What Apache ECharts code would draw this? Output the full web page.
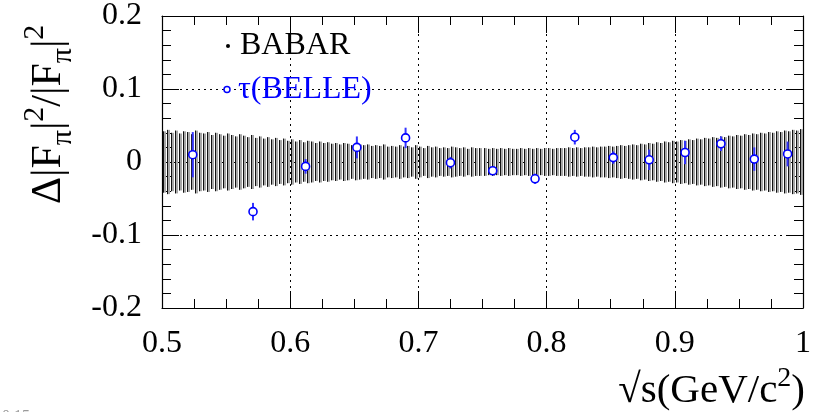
<!DOCTYPE html>
<html>
<head>
<meta charset="utf-8">
<script src="https://cdn.jsdelivr.net/npm/echarts@6/dist/echarts.min.js"></script>
<style>
  html, body { margin: 0; padding: 0; background: #fff; }
  #chart { width: 814px; height: 412px; }
</style>
</head>
<body>
<div id="chart"></div>
<script>
// Relative deviation of |F_pi|^2 : BABAR uncertainty band and tau (BELLE) points.

// x axis ticks
const xTicks = [0.5, 0.6, 0.7, 0.8, 0.9, 1.0];
// y axis ticks
const yTicks = [-0.2, -0.1, 0, 0.1, 0.2];

// BABAR: uncertainty band, 160 bins of 3.125 MeV from 0.5 to 1.0 GeV (central value 0)
const babarStart = 0.5;
const babarBinWidth = 0.003125;
const babarErr = [
  0.042,0.044,0.040,0.043,0.039,0.042,0.041,0.038,0.043,0.040,
  0.039,0.041,0.037,0.040,0.038,0.036,0.039,0.037,0.035,0.038,
  0.036,0.034,0.037,0.033,0.035,0.032,0.034,0.031,0.033,0.030,
  0.032,0.029,0.031,0.028,0.030,0.027,0.029,0.028,0.026,0.028,
  0.026,0.027,0.025,0.026,0.024,0.026,0.025,0.023,0.025,0.024,
  0.023,0.024,0.022,0.023,0.022,0.024,0.021,0.022,0.021,0.023,
  0.021,0.022,0.020,0.023,0.021,0.019,0.022,0.020,0.021,0.019,
  0.020,0.019,0.021,0.020,0.019,0.020,0.018,0.020,0.019,0.019,
  0.019,0.018,0.019,0.018,0.019,0.018,0.019,0.018,0.018,0.019,
  0.018,0.019,0.018,0.019,0.018,0.019,0.019,0.018,0.019,0.019,
  0.019,0.020,0.019,0.020,0.019,0.020,0.020,0.021,0.020,0.021,
  0.021,0.022,0.021,0.022,0.023,0.022,0.023,0.024,0.023,0.025,
  0.024,0.026,0.025,0.027,0.026,0.028,0.027,0.029,0.028,0.030,
  0.029,0.031,0.030,0.032,0.031,0.033,0.032,0.034,0.033,0.035,
  0.034,0.036,0.035,0.037,0.036,0.038,0.037,0.039,0.038,0.040,
  0.039,0.041,0.040,0.042,0.041,0.043,0.042,0.044,0.043,0.045
];

// tau (BELLE) points
const belleX   = [0.524, 0.571, 0.612, 0.652, 0.690, 0.725, 0.758, 0.791, 0.822, 0.852, 0.880, 0.908, 0.936, 0.962, 0.988];
const belleY   = [0.010, -0.068, -0.006, 0.020, 0.033, -0.001, -0.012, -0.023, 0.034, 0.006, 0.003, 0.013, 0.025, 0.004, 0.011];
const belleErr = [0.031, 0.012, 0.010, 0.015, 0.014, 0.008, 0.005, 0.007, 0.010, 0.0085, 0.014, 0.016, 0.010, 0.016, 0.017];

const SERIF = '"Liberation Serif", "Times New Roman", serif';
const BLUE = '#0000ff';

const babarData = babarErr.map((e, i) => [babarStart + (i + 0.5) * babarBinWidth, e]);
const belleData = belleX.map((x, i) => [x, belleY[i], belleErr[i]]);

// text measurement for the composed axis titles
const mctx = document.createElement('canvas').getContext('2d');
function textWidth(t, size) {
  mctx.font = size + 'px ' + SERIF;
  return mctx.measureText(t).width;
}
// pieces: [text, size, baselineShift(+ down)]; local y = 0 is the baseline
function composeText(pieces, color) {
  const children = [];
  let x = 0;
  pieces.forEach(([t, size, dy]) => {
    children.push({
      type: 'text',
      x: x,
      y: dy - 0.305 * size,
      style: {
        text: t, fill: color, font: size + 'px ' + SERIF,
        align: 'left', verticalAlign: 'middle'
      }
    });
    x += textWidth(t, size);
  });
  return { children, width: x };
}

const chart = echarts.init(document.getElementById('chart'), null, { renderer: 'canvas' });

const gridPos = { left: 162, right: 9, top: 15.5, bottom: 104 };

const axisCommon = {
  type: 'value',
  axisLine: { show: true, onZero: false, lineStyle: { color: '#000', width: 1.2 } },
  axisTick: { show: true, inside: true, length: 17, lineStyle: { color: '#000', width: 1 } },
  minorTick: { show: true, length: 9, lineStyle: { color: '#000', width: 1 } },
};

const yMain = {
  ...axisCommon,
  min: yTicks[0], max: yTicks[yTicks.length - 1], interval: 0.1,
  minorTick: { ...axisCommon.minorTick, splitNumber: 5 },
};
const xMain = {
  ...axisCommon,
  min: xTicks[0], max: xTicks[xTicks.length - 1], interval: 0.1,
  minorTick: { ...axisCommon.minorTick, splitNumber: 4 },
};

const yTitle = composeText([
  ['\u0394|F', 42, 0], ['\u03c0', 30, 10], ['|', 42, 0], ['2', 30, -18],
  ['/|F', 42, 0], ['\u03c0', 30, 10], ['|', 42, 0], ['2', 30, -18]
], '#000');
const xTitle = composeText([
  ['\u221as(GeV/c', 41, 0], ['2', 28, -17], [')', 41, 0]
], '#000');

chart.setOption({
  animation: false,
  backgroundColor: '#fff',
  grid: gridPos,
  xAxis: [
    {
      ...xMain, position: 'bottom',
      axisLabel: {
        show: true, margin: 20, color: '#000', fontSize: 32, fontFamily: SERIF,
        formatter: v => (Math.abs(v - 1) < 1e-9 ? '1' : v.toFixed(1))
      },
      splitLine: { show: true, lineStyle: { color: '#000', type: [2, 4], width: 1 } }
    },
    {
      ...xMain, position: 'top',
      axisLabel: { show: false }, splitLine: { show: false }
    }
  ],
  yAxis: [
    {
      ...yMain, position: 'left',
      axisLabel: {
        show: true, margin: 20, color: '#000', fontSize: 32, fontFamily: SERIF,
        formatter: v => (Math.abs(v) < 1e-9 ? '0' : v.toFixed(1))
      },
      splitLine: { show: true, lineStyle: { color: '#000', type: [2, 4], width: 1 } }
    },
    {
      ...yMain, position: 'right',
      axisLabel: { show: false }, splitLine: { show: false }
    }
  ],
  series: [
    {
      // BABAR uncertainty band, one error bar per bin
      name: 'BABAR',
      type: 'custom',
      xAxisIndex: 0, yAxisIndex: 0,
      data: babarData,
      clip: true,
      renderItem: (params, api) => {
        const x = api.value(0), e = api.value(1);
        const top = api.coord([x, e]);
        const bot = api.coord([x, -e]);
        const px = Math.round(top[0]);
        return {
          type: 'group',
          children: [
            { type: 'rect', shape: { x: px - 1, y: top[1], width: 3, height: bot[1] - top[1] },
              style: { fill: '#a6a6a6' } },
            { type: 'line', shape: { x1: px - 0.5, y1: top[1], x2: px - 0.5, y2: bot[1] },
              style: { stroke: '#111', lineWidth: 1 } }
          ]
        };
      },
      z: 2
    },
    {
      // BELLE error bars
      name: 'BELLE err',
      type: 'custom',
      data: belleData,
      renderItem: (params, api) => {
        const x = api.value(0), y = api.value(1), e = api.value(2);
        const top = api.coord([x, y + e]);
        const bot = api.coord([x, y - e]);
        return {
          type: 'line',
          shape: { x1: top[0], y1: top[1], x2: bot[0], y2: bot[1] },
          style: { stroke: '#3535ff', lineWidth: 2 }
        };
      },
      z: 3
    },
    {
      name: '\u03c4(BELLE)',
      type: 'scatter',
      data: belleData.map(d => [d[0], d[1]]),
      symbol: 'circle',
      symbolSize: 8,
      itemStyle: { color: '#fff', borderColor: BLUE, borderWidth: 1.6, opacity: 1 },
      z: 4
    }
  ],
  graphic: [
    // legend
    { type: 'circle', shape: { cx: 228, cy: 46, r: 2 }, style: { fill: '#000' }, z: 10 },
    { type: 'text', x: 240, y: 46, style: { text: 'BABAR', font: '32px ' + SERIF, fill: '#000',
      verticalAlign: 'middle' }, z: 10 },
    { type: 'circle', shape: { cx: 227, cy: 89.5, r: 3 }, style: { fill: '#fff', stroke: BLUE, lineWidth: 1.5 }, z: 10 },
    { type: 'text', x: 238, y: 90, style: { text: '\u03c4(BELLE)', font: '32px ' + SERIF, fill: BLUE,
      verticalAlign: 'middle' }, z: 10 },
    // y axis title (rotated, baseline at x = 62)
    { type: 'group', x: 62, y: 204, rotation: Math.PI / 2, children: yTitle.children, z: 10 },
    // x axis title (right-aligned, baseline at y = 404)
    { type: 'group', x: 805 - xTitle.width, y: 404, children: xTitle.children, z: 10 },
    // stray label at the lower-left edge
    { type: 'text', x: 2, y: 409, style: { text: '0.15', font: '16px ' + SERIF, fill: '#9a9a9a',
      verticalAlign: 'top' }, z: 10 }
  ]
});
</script>
</body>
</html>
